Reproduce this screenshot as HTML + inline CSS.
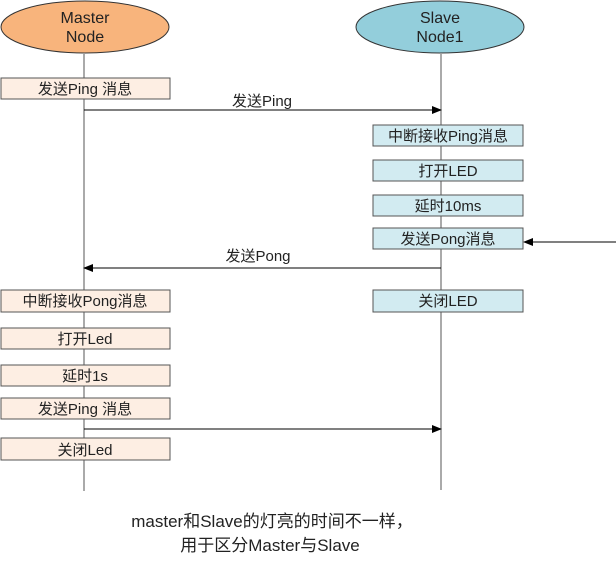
<!DOCTYPE html>
<html><head><meta charset="utf-8"><style>
body{margin:0;width:616px;height:557px;background:#fff;overflow:hidden}
svg text{font-family:"Liberation Sans","Noto Sans CJK SC",sans-serif;font-size:15px;fill:#222}
</style></head><body>
<svg width="616" height="557" viewBox="0 0 616 557">
<defs><marker id="a" markerWidth="10" markerHeight="8" refX="9" refY="4" orient="auto" markerUnits="userSpaceOnUse"><path d="M0,0 L10,4 L0,8 z" fill="#000"/></marker></defs>
<line x1="84" y1="54" x2="84" y2="491" stroke="#555"/>
<line x1="441" y1="54" x2="441" y2="490" stroke="#555"/>
<ellipse cx="85" cy="27" rx="84" ry="26" fill="#f8b47c" stroke="#333"/>
<text x="85" y="23" text-anchor="middle" style="font-size:16px">Master</text><text x="85" y="42" text-anchor="middle" style="font-size:16px">Node</text>
<ellipse cx="440" cy="27" rx="84" ry="26" fill="#93cedb" stroke="#333"/>
<text x="440" y="23" text-anchor="middle" style="font-size:16px">Slave</text><text x="440" y="42" text-anchor="middle" style="font-size:16px">Node1</text>
<g fill="#fdeee3" stroke="#555">
<rect x="1" y="78" width="169" height="21"/><rect x="1" y="290" width="169" height="22"/><rect x="1" y="328" width="169" height="21"/><rect x="1" y="365" width="169" height="21"/><rect x="1" y="398" width="169" height="21"/><rect x="1" y="438" width="169" height="22"/>
</g>
<g fill="#d2ebf1" stroke="#555">
<rect x="373" y="125" width="150" height="21"/><rect x="373" y="160" width="150" height="21"/><rect x="373" y="195" width="150" height="21"/><rect x="373" y="228" width="150" height="21"/><rect x="373" y="290" width="150" height="22"/>
</g>
<g text-anchor="middle">
<text x="85" y="94">发送Ping 消息</text><text x="85" y="306">中断接收Pong消息</text><text x="85" y="344">打开Led</text><text x="85" y="381">延时1s</text><text x="85" y="414">发送Ping 消息</text><text x="85" y="455">关闭Led</text>
<text x="448" y="141">中断接收Ping消息</text><text x="448" y="176">打开LED</text><text x="448" y="211">延时10ms</text><text x="448" y="244">发送Pong消息</text><text x="448" y="306">关闭LED</text>
<text x="262" y="106">发送Ping</text><text x="258" y="261">发送Pong</text>
<text x="272" y="527" style="font-size:17px">master和Slave的灯亮的时间不一样，</text>
<text x="270" y="551" style="font-size:17px">用于区分Master与Slave</text>
</g>
<g stroke="#000" stroke-width="1">
<line x1="84" y1="110" x2="441" y2="110" marker-end="url(#a)"/>
<line x1="441" y1="268" x2="84" y2="268" marker-end="url(#a)"/>
<line x1="84" y1="429" x2="441" y2="429" marker-end="url(#a)"/>
<line x1="616" y1="242" x2="524" y2="242" marker-end="url(#a)"/>
</g>
</svg>
</body></html>
